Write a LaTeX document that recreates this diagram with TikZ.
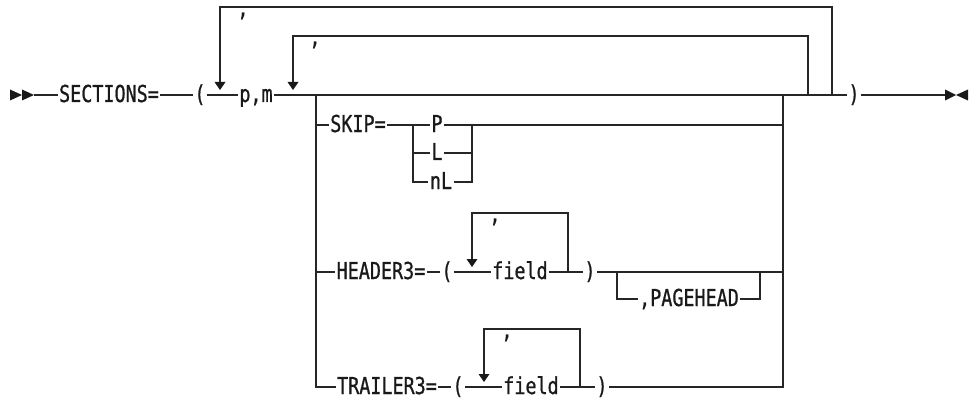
\documentclass[tikz,border=0pt]{standalone}
\usepackage{fontspec}
\newfontfamily\rrfont[FakeStretch=0.79,FakeBold=0.8]{DejaVu Sans Mono}
\begin{document}
\begin{tikzpicture}[x=1pt,y=-1pt,
  rail/.style={line width=1.3pt, draw=black!85},
  lbl/.style={font=\rrfont\fontsize{23.3pt}{28pt}\selectfont, fill=white, inner sep=1.5pt, anchor=base, text=black!90},
  cma/.style={lbl, inner sep=1pt},
  downtip/.pic={\fill[black!90] (-5.5,-13) -- (5.5,-13) -- (0,-5) -- cycle;}]
\useasboundingbox (0,0) rectangle (969,401);
% key coordinates
\coordinate (s0) at (34,95);
\coordinate (e0) at (945,95);
% outer loop
\coordinate (oR) at (832,95);
\coordinate (oRt) at (832,7);
\coordinate (oLt) at (220,7);
\coordinate (oLb) at (220,82);
\coordinate (oL) at (220,95);
% inner loop
\coordinate (iR) at (808,95);
\coordinate (iRt) at (808,36);
\coordinate (iLt) at (293,36);
\coordinate (iLb) at (293,82);
\coordinate (iL) at (293,95);
% choice block
\coordinate (cLt) at (316,95);
\coordinate (cLb) at (316,387);
\coordinate (cRt) at (783,95);
\coordinate (cRb) at (783,387);
% skip
\coordinate (sk0) at (316,125);
\coordinate (sk1) at (413,125);
\coordinate (sk2) at (472,125);
\coordinate (sk3) at (783,125);
\coordinate (skL1) at (413,153);
\coordinate (skL2) at (472,153);
\coordinate (skN1) at (413,182);
\coordinate (skN2) at (472,182);
% header
\coordinate (h0) at (316,272);
\coordinate (h1) at (783,272);
\coordinate (hR) at (568,272);
\coordinate (hRt) at (568,213);
\coordinate (hLt) at (472,213);
\coordinate (hLb) at (472,259);
\coordinate (hL) at (472,272);
\coordinate (pg0) at (617,272);
\coordinate (pg1) at (617,299);
\coordinate (pg2) at (760,299);
\coordinate (pg3) at (760,272);
% trailer
\coordinate (t0) at (316,387);
\coordinate (t1) at (783,387);
\coordinate (tR) at (580,387);
\coordinate (tRt) at (580,329);
\coordinate (tLt) at (484,329);
\coordinate (tLb) at (484,374);
\coordinate (tL) at (484,387);

% rails
\draw[rail] (s0) -- (e0);
\draw[rail] (oR) -- (oRt) -- (oLt) -- (oLb);
\draw[rail] (iR) -- (iRt) -- (iLt) -- (iLb);
\draw[rail] (cLt) -- (cLb) -- (t1) -- (cRt);
\draw[rail] (sk0) -- (sk3);
\draw[rail] (sk1) -- (skN1) -- (skN2) -- (sk2);
\draw[rail] (skL1) -- (skL2);
\draw[rail] (h0) -- (h1);
\draw[rail] (hR) -- (hRt) -- (hLt) -- (hLb);
\draw[rail] (pg0) -- (pg1) -- (pg2) -- (pg3);
\draw[rail] (tR) -- (tRt) -- (tLt) -- (tLb);

% arrowheads on loops
\pic at (oL) {downtip};
\pic at (iL) {downtip};
\pic at (hL) {downtip};
\pic at (tL) {downtip};

% start and end markers
\fill[black!90] (10,89.5) -- (22,95) -- (10,100.5) -- cycle;
\fill[black!90] (22,89.5) -- (34,95) -- (22,100.5) -- cycle;
\fill[black!90] (945,89.5) -- (956,95) -- (945,100.5) -- cycle;
\fill[black!90] (968,89.5) -- (956,95) -- (968,100.5) -- cycle;

% labels
\node[lbl] (sections) at (109,102) {SECTIONS=};
\node[lbl] (lp) at (200,102) {(};
\node[lbl] (pm) at (256,102) {p,m};
\node[lbl] (rp) at (854,102) {)};
\node[cma] (c1) at (243,16) {,};
\node[cma] (c2) at (315,45) {,};
\node[lbl] (skip) at (358,132) {SKIP=};
\node[lbl] (P) at (437,132) {P};
\node[lbl] (L) at (437,160) {L};
\node[lbl] (nL) at (441,189) {nL};
\node[lbl] (hdr) at (381,279) {HEADER3=};
\node[lbl] (hlp) at (447,279) {(};
\node[lbl] (hfield) at (520,279) {field};
\node[lbl] (hrp) at (590,279) {)};
\node[cma] (hc) at (495,222) {,};
\node[lbl] (pghd) at (689,306) {,PAGEHEAD};
\node[lbl] (trl) at (387,394) {TRAILER3=};
\node[lbl] (tlp) at (458,394) {(};
\node[lbl] (tfield) at (531,394) {field};
\node[lbl] (trp) at (602,394) {)};
\node[cma] (tc) at (507,338) {,};
\end{tikzpicture}
\end{document}
